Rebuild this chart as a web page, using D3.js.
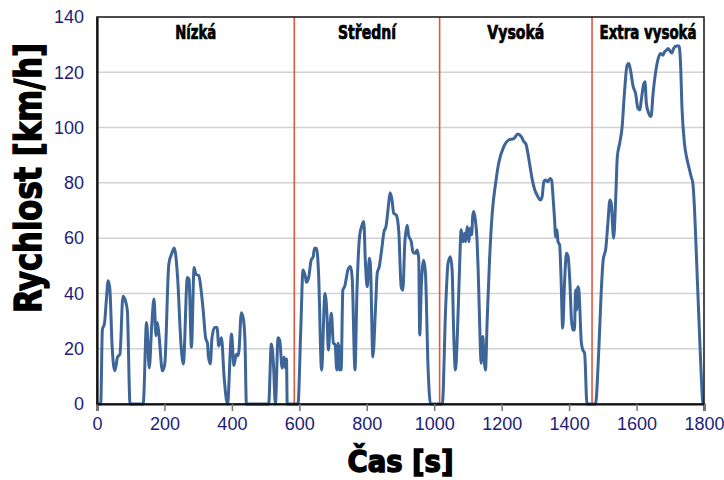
<!DOCTYPE html>
<html><head><meta charset="utf-8">
<script src="https://cdn.jsdelivr.net/npm/d3@7"></script>
<style>body{margin:0;background:#fff}svg{display:block}</style>
</head><body>
<script>
// ---- data ----
const time = [0,11,16,22,28,33,38,45,53,61,68,77,85,90,98,137,147,155,162,169,175,179,184,194,201,213,222,229,239,249,256,268,273,280,288,293,302,310,315,322,328,330,336,341,349,356,361,369,377,387,399,406,413,418,421,428,435,439,443,509,517,523,529,537,542,549,555,559,562,564,596,
604,611,618,621,628,635,641,645,651,657,666,676,682,686,691,695,701,706,711,715,719,722,724,729,735,740,744,752,757,765,771,779,786,791,796,801,808,811,818,826,831,837,844,851,857,864,869,874,880,887,892,895,902,907,913,920,924,932,937,944,949,954,957,962,969,974,982,989,1024,
1034,1041,1048,1053,1058,1063,1068,1074,1080,1085,1090,1093,1098,1103,1106,1111,1114,1117,1122,1127,1130,1135,1139,1144,1147,1152,1157,1164,1172,1182,1191,1206,1221,1236,1248,1258,1266,1272,1281,1291,1298,1305,1315,1320,1325,1330,1337,1343,1348,1353,1357,1360,1364,1367,1372,1376,1381,1386,1392,1397,1402,1407,1411,1416,1419,1422,1426,1429,1432,1436,1441,1446,1453,1478,
1488,1495,1501,1509,1515,1521,1525,1532,1538,1543,1550,1557,1564,1572,1577,1582,1590,1597,1604,1610,1614,1622,1625,1629,1636,1643,1649,1656,1663,1671,1678,1683,1689,1694,1701,1705,1710,1718,1726,1730,1735,1742,1748,1755,1762,1767,1772,1778,1785,1792,1797,1800];
const speed = [0,0,27,29,38,44.6,41.7,20.5,12,17,18,39,37,33.7,0,0,29.5,13,27.7,38,24.7,29.5,24.7,12,14.5,50.6,54.5,56.4,45.8,21.7,14.5,45.8,45,20.5,49.4,47,46.4,39.8,33.7,24,21.7,17.5,14.5,24,27.7,27.7,21,24,9.6,0,25.3,13.9,18,17.5,19.3,33,30,22,0,0,21.7,15,0,24,23,13,17,13,16.3,0,0,
26,48.5,46,44,46,52,53.3,56.3,56.3,47.3,12.3,40,32,19.5,28,32.8,22,21.5,12.3,22,12.3,21,12.3,41.2,42.7,46,48.5,49.7,45,12.3,41.2,61,64.7,66,51,42.4,52.7,50,17,35,47.3,49.7,55.7,62.3,64.2,71.4,76.4,74.4,69,68.4,66,62.3,42.4,41.2,58.7,64.7,61,58.7,55,54.5,55.7,52.7,25,43.4,52,47.3,12.3,0,0,
35.2,50.9,53.3,48.5,24.4,12.3,23,45,63,58.7,61.8,58.7,64.2,58.7,63.6,61.2,67.8,69.6,66.6,59.3,49.7,28,14.7,24.4,18.4,12.3,30.4,52,69,79.8,87,93,95.5,96,97.7,96.7,94.9,94,88.3,81,77.5,75.6,73.8,75,80.4,81,80.4,81.6,81,73.8,66.6,60.5,63,58.7,57.5,46,27.4,42.4,54.5,53.3,44.8,30.4,26.8,26.8,41.2,34,42.4,41.2,34,22.5,19.5,18.3,0,0,
19.5,40,52,56.5,65.4,73.8,72.5,60,73.8,89.5,94.3,100,112.4,122.6,123.2,120.8,114.8,112.4,107,106.4,110,116,116.6,108.8,105.2,104,112.4,119.6,124.4,126.8,126.2,127.4,128,128.6,127.4,127,128.6,129.5,129.5,124.4,106.4,94.3,89.5,85.8,82.2,79.8,70.2,52,30.4,9.9,0,0];
const phaseBounds = [0, 585, 1016, 1468, 1800];
const phaseNames = ["Nízká", "Střední", "Vysoká", "Extra vysoká"];
const phaseLabelWidths = [41, 58, 57, 97];
const xTicks = [0,200,400,600,800,1000,1200,1400,1600,1800];
const yTicks = [0,20,40,60,80,100,120,140];
const xTitle = "Čas [s]";
const yTitle = "Rychlost [km/h]";

// ---- drawing ----
const W = 724, H = 480;
const svg = d3.select("body").append("svg").attr("width", W).attr("height", H);
const x = d3.scaleLinear().domain([0, 1800]).range([97, 704]);
const y = d3.scaleLinear().domain([0, 140]).range([404, 17]);
const heavy = "'DejaVu Sans Condensed','DejaVu Sans',sans-serif";

// grid
svg.append("g").selectAll("line").data(yTicks.filter(d => d > 0 && d < 140)).join("line")
  .attr("x1", x(0)).attr("x2", x(1800)).attr("y1", d => y(d)).attr("y2", d => y(d))
  .attr("stroke", "#d2d2d2").attr("stroke-width", 1.5);

// phase separators
svg.append("g").selectAll("line").data(phaseBounds.slice(1, 4)).join("line")
  .attr("x1", d => x(d)).attr("x2", d => x(d)).attr("y1", y(140)).attr("y2", y(0))
  .attr("stroke", "#e0583f").attr("stroke-width", 1.6);

// speed line
const pts = time.map((t, i) => [t, speed[i]]);
svg.append("path").datum(pts)
  .attr("fill", "none").attr("stroke", "#3d6598").attr("stroke-width", 3)
  .attr("stroke-linejoin", "round")
  .attr("d", d3.line().x(d => x(d[0])).y(d => y(d[1])).curve(d3.curveMonotoneX));

// frame
svg.append("rect").attr("x", x(0)).attr("y", y(140)).attr("width", x(1800) - x(0)).attr("height", y(0) - y(140))
  .attr("fill", "none").attr("stroke", "#111").attr("stroke-width", 1.5);

// axes
const xAxis = svg.append("g").attr("transform", `translate(0,${y(0)})`)
  .call(d3.axisBottom(x).tickValues(xTicks).tickSize(7).tickPadding(6).tickFormat(d3.format("d")));
xAxis.select(".domain").attr("stroke", "#111").attr("stroke-width", 2.2);
xAxis.selectAll(".tick line").attr("stroke", "#777").attr("stroke-width", 1.5);
xAxis.selectAll("text").attr("fill", "#1d1d78").attr("font-size", 18).attr("font-family", "'Liberation Sans',Arial,sans-serif");

const yAxis = svg.append("g").attr("transform", `translate(${x(0)},0)`)
  .call(d3.axisLeft(y).tickValues(yTicks).tickSize(0).tickPadding(13).tickFormat(d3.format("d")));
yAxis.select(".domain").attr("stroke", "#111").attr("stroke-width", 2.2);
yAxis.selectAll("text").attr("fill", "#1d1d78").attr("font-size", 18).attr("font-family", "'Liberation Sans',Arial,sans-serif");

// phase labels
svg.append("g").selectAll("text").data(phaseNames).join("text")
  .attr("x", (d, i) => x((phaseBounds[i] + phaseBounds[i + 1]) / 2) - phaseLabelWidths[i] / 2)
  .attr("y", 39)
  .attr("textLength", (d, i) => phaseLabelWidths[i]).attr("lengthAdjust", "spacingAndGlyphs")
  .attr("font-family", heavy).attr("font-weight", "bold").attr("font-size", 19)
  .attr("fill", "#000").attr("stroke", "#000").attr("stroke-width", 0.7)
  .text(d => d);

// axis titles
svg.append("text").attr("x", (x(0) + x(1800)) / 2 - 53).attr("y", 472)
  .attr("textLength", 106).attr("lengthAdjust", "spacingAndGlyphs")
  .attr("font-family", heavy).attr("font-weight", "bold").attr("font-size", 31)
  .attr("fill", "#000").attr("stroke", "#000").attr("stroke-width", 1.4)
  .text(xTitle);

svg.append("text").attr("transform", "translate(41,313) rotate(-90)")
  .attr("x", 0).attr("y", 0)
  .attr("textLength", 270).attr("lengthAdjust", "spacingAndGlyphs")
  .attr("font-family", heavy).attr("font-weight", "bold").attr("font-size", 38)
  .attr("fill", "#000").attr("stroke", "#000").attr("stroke-width", 1.4)
  .text(yTitle);
</script>
</body></html>
